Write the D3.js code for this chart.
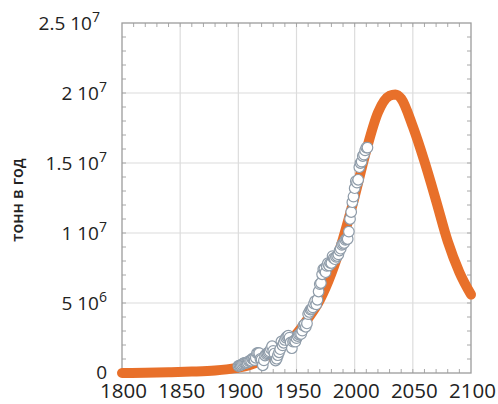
<!DOCTYPE html>
<html><head><meta charset="utf-8">
<script src="https://cdn.jsdelivr.net/npm/d3@7"></script>
<style>
html,body{margin:0;padding:0;background:#fff;}
svg{display:block;}
text{font-family:"Open Sans","DejaVu Sans",sans-serif;fill:#222;}
</style></head>
<body>
<svg id="chart" width="498" height="404"></svg>
<script>
// ---- data ----
const yTitle = "тонн в год";
const xTickValues = [1800, 1850, 1900, 1950, 2000, 2050, 2100];
const yTickValues = [0, 5e6, 1e7, 1.5e7, 2e7, 2.5e7];

// fitted (model) curve, tonnes/year
const modelYears  = [1800,1820,1840,1860,1880,1890,1900,1910,1920,1930,1940,1950,1960,1970,1980,1990,2000,2010,2020,2030,2035,2040,2050,2060,2070,2080,2090,2100];
const modelValues = [0.0,0.02e6,0.05e6,0.1e6,0.18e6,0.26e6,0.38e6,0.58e6,0.9e6,1.4e6,2.05e6,2.8e6,3.9e6,5.2e6,7.1e6,9.6e6,12.6e6,15.9e6,18.6e6,19.8e6,19.9e6,19.6e6,17.6e6,15.1e6,12.3e6,9.4e6,7.2e6,5.6e6];

// historical production (circles)
const histYears = d3.range(1900, 2012);
const histValues = [
 0.50e6,0.53e6,0.56e6,0.61e6,0.67e6,0.72e6,0.73e6,0.72e6,0.76e6,0.85e6,
 0.86e6,0.88e6,1.02e6,1.00e6,0.92e6,1.09e6,1.42e6,1.43e6,1.42e6,1.00e6,
 0.96e6,0.55e6,0.90e6,1.25e6,1.35e6,1.41e6,1.48e6,1.54e6,1.72e6,1.91e6,
 1.58e6,1.39e6,0.89e6,1.02e6,1.27e6,1.48e6,1.70e6,2.25e6,1.97e6,2.16e6,
 2.36e6,2.52e6,2.61e6,2.67e6,2.53e6,2.18e6,1.77e6,2.24e6,2.30e6,2.24e6,
 2.49e6,2.64e6,2.74e6,2.78e6,2.79e6,3.03e6,3.39e6,3.47e6,3.30e6,3.54e6,
 4.21e6,4.36e6,4.53e6,4.58e6,4.69e6,4.96e6,5.14e6,4.90e6,5.23e6,5.82e6,
 6.35e6,6.43e6,7.05e6,7.42e6,7.44e6,7.20e6,7.65e6,7.84e6,7.68e6,7.87e6,
 7.86e6,8.35e6,8.20e6,8.13e6,8.29e6,8.36e6,8.47e6,8.75e6,8.88e6,9.15e6,
 9.23e6,9.29e6,9.51e6,9.57e6,9.57e6,10.1e6,11.0e6,11.5e6,12.2e6,12.6e6,
 13.2e6,13.7e6,13.6e6,13.8e6,14.7e6,15.0e6,15.1e6,15.5e6,15.6e6,15.9e6,
 16.1e6,16.1e6
];

// ---- layout ----
const svg = d3.select("#chart");
const L = 122, R = 471, T = 23, B = 373;
const x = d3.scaleLinear().domain([1800, 2100]).range([L, R]);
const y = d3.scaleLinear().domain([0, 2.5e7]).range([B, T]);

// grid
const grid = svg.append("g");
grid.selectAll("line.vx").data(xTickValues.slice(1, -1)).join("line")
  .attr("x1", d => x(d)).attr("x2", d => x(d)).attr("y1", T).attr("y2", B)
  .attr("stroke", "#dcdcdc").attr("stroke-width", 1.2);
grid.selectAll("line.hy").data(yTickValues.slice(1, -1)).join("line")
  .attr("y1", d => y(d)).attr("y2", d => y(d)).attr("x1", L).attr("x2", R)
  .attr("stroke", "#dcdcdc").attr("stroke-width", 1.2);

// minor ticks on all four sides (inward)
const minorX = d3.range(1810, 2100, 10);
const minorY = d3.range(1e6, 2.5e7, 1e6);
const tk = svg.append("g").attr("stroke", "#a8a8a8").attr("stroke-width", 1);
tk.selectAll("line.tb").data(minorX).join("line")
  .attr("x1", d => x(d)).attr("x2", d => x(d)).attr("y1", B).attr("y2", B - 4);
tk.selectAll("line.tt").data(minorX).join("line")
  .attr("x1", d => x(d)).attr("x2", d => x(d)).attr("y1", T).attr("y2", T + 4);
tk.selectAll("line.tl").data(minorY).join("line")
  .attr("y1", d => y(d)).attr("y2", d => y(d)).attr("x1", L).attr("x2", L + 4);
tk.selectAll("line.tr").data(minorY).join("line")
  .attr("y1", d => y(d)).attr("y2", d => y(d)).attr("x1", R).attr("x2", R - 4);

// frame
svg.append("rect").attr("x", L).attr("y", T).attr("width", R - L).attr("height", B - T)
  .attr("fill", "none").attr("stroke", "#9c9c9c").attr("stroke-width", 1.3);

// model curve
const line = d3.line().x((d, i) => x(modelYears[i])).y(d => y(d)).curve(d3.curveMonotoneX);
svg.append("path").datum(modelValues).attr("d", line)
  .attr("fill", "none").attr("stroke", "#e8702a").attr("stroke-width", 10)
  .attr("stroke-linecap", "round").attr("stroke-linejoin", "round");

// historical circles
svg.append("g").selectAll("circle").data(histValues).join("circle")
  .attr("cx", (d, i) => x(histYears[i])).attr("cy", d => y(d)).attr("r", 5.3)
  .attr("fill", "#fff").attr("stroke", "#8f9ca9").attr("stroke-width", 1.2);

// x axis labels
svg.append("g").selectAll("text").data(xTickValues).join("text")
  .attr("x", d => x(d) + 1.5).attr("y", 398).attr("text-anchor", "middle")
  .attr("font-size", 20.5).text(d => d);

// y axis labels in "m 10^e" format
const yl = svg.append("g").selectAll("text").data(yTickValues).join("text")
  .attr("x", d => d === 2.5e7 ? 100 : 107).attr("y", d => y(d) + (d === 0 ? 5.5 : 6.5))
  .attr("text-anchor", "end").attr("font-size", 19);
yl.each(function(d) {
  const t = d3.select(this);
  if (d === 0) { t.text("0"); return; }
  const e = Math.floor(Math.log10(d));
  const m = +(d / Math.pow(10, e)).toFixed(2);
  t.append("tspan").text(m + " 10");
  t.append("tspan").attr("font-size", 14).attr("dy", -8).text(e);
});

// y axis title
svg.append("text").attr("transform", "translate(23,200) rotate(-90)")
  .attr("text-anchor", "middle").attr("font-size", 16).attr("font-weight", 600)
  .text(yTitle);
</script>
</body></html>
